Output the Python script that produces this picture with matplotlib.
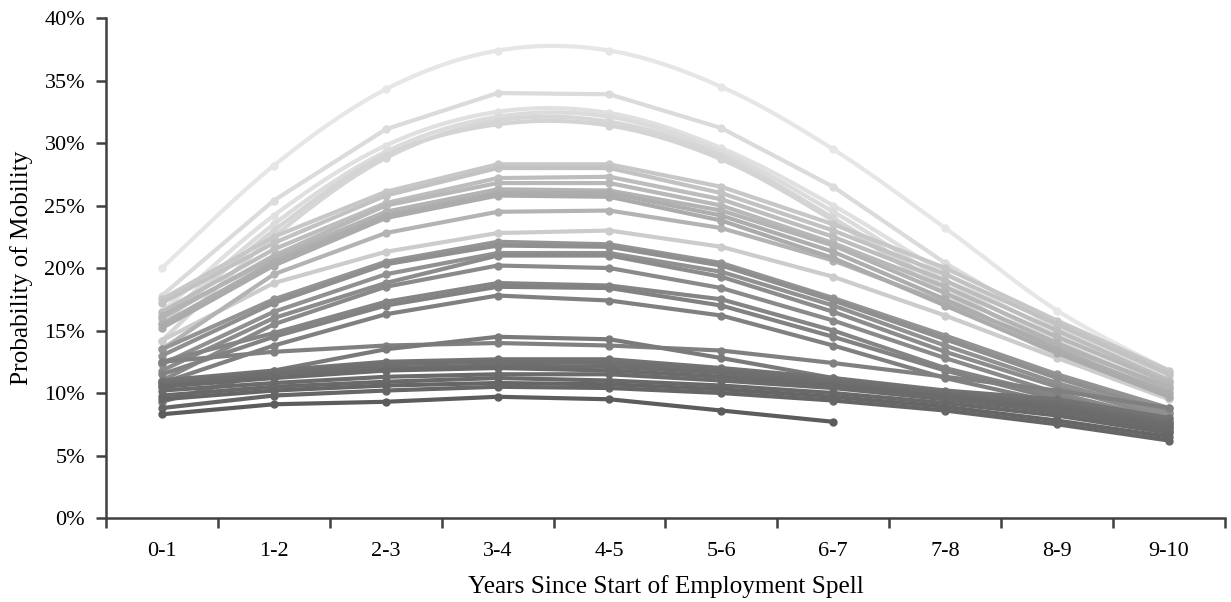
import numpy as np
import matplotlib
matplotlib.use("Agg")
import matplotlib.pyplot as plt
from matplotlib.ticker import FuncFormatter, FixedLocator

plt.rcParams['font.family'] = ['Liberation Serif', 'DejaVu Serif']

# --- Data (probability of mobility, %) ---

periods = ['0-1', '1-2', '2-3', '3-4', '4-5', '5-6', '6-7', '7-8', '8-9', '9-10']

s01 = [20.0, 28.2, 34.3, 37.4, 37.4, 34.5, 29.5, 23.2, 16.6, 11.8]
s02 = [17.8, 25.4, 31.1, 34.0, 33.9, 31.2, 26.5, 20.4, 15.2, 11.3]
s03 = [16.5, 24.2, 29.8, 32.5, 32.4, 29.6, 25.0, 19.6, 14.8, 11.0]
s04 = [15.8, 23.5, 29.3, 32.1, 32.1, 29.3, 24.5, 19.0, 14.2, 10.5]
s05 = [14.2, 22.5, 28.8, 31.8, 31.7, 29.0, 24.0, 18.5, 13.5, 10.0]
s06 = [15.5, 23.0, 29.0, 31.5, 31.4, 28.7, 23.8, 18.0, 13.0, 9.5]
s07 = [17.5, 22.5, 26.1, 28.3, 28.3, 26.5, 23.5, 20.0, 15.8, 11.8]
s08 = [17.2, 22.0, 25.8, 28.0, 28.0, 26.0, 23.0, 19.5, 15.5, 11.5]
s09 = [16.5, 21.5, 25.2, 27.2, 27.3, 25.5, 22.5, 19.0, 15.0, 11.0]
s10 = [16.0, 21.0, 25.0, 26.8, 26.8, 25.0, 22.0, 18.5, 14.5, 10.8]
s11 = [16.2, 20.8, 24.5, 26.3, 26.2, 24.6, 21.8, 18.0, 14.0, 10.3]
s12 = [15.5, 20.5, 24.2, 26.0, 26.0, 24.2, 21.3, 17.5, 13.5, 10.0]
s13 = [15.2, 20.2, 24.0, 25.8, 25.7, 23.8, 20.8, 17.0, 13.2, 9.7]
s14 = [13.5, 19.5, 22.8, 24.5, 24.6, 23.2, 20.6, 17.2, 13.8, 10.5]
s15 = [14.2, 18.8, 21.3, 22.8, 23.0, 21.7, 19.3, 16.2, 12.8, 9.6]
s16 = [13.5, 17.5, 20.5, 22.1, 21.9, 20.4, 17.6, 14.6, 11.5, 8.8]
s17 = [13.0, 17.2, 20.3, 21.8, 21.7, 20.2, 17.4, 14.3, 11.2, 8.5]
s18 = [12.3, 16.5, 19.5, 21.2, 21.2, 19.7, 17.0, 13.8, 10.8, 8.3]
s19 = [11.8, 16.0, 18.8, 21.0, 21.0, 19.3, 16.5, 13.3, 10.5, 8.0]
s20 = [11.0, 15.5, 18.5, 20.2, 20.0, 18.4, 15.8, 12.8, 10.0, 7.8]
s21 = [12.5, 14.8, 17.3, 18.8, 18.6, 17.5, 15.0, 12.0, 9.8, 7.5]
s22 = [11.5, 14.5, 17.0, 18.5, 18.4, 17.0, 14.5, 11.8, 9.5, 7.3]
s23 = [10.8, 13.8, 16.3, 17.8, 17.4, 16.2, 13.8, 11.2, 9.2, 7.0]
s24 = [12.5, 13.3, 13.8, 14.0, 13.8, 13.4, 12.4, 11.3, 10.2, 8.8]
s25 = [9.3, 11.8, 13.5, 14.5, 14.3, 12.8, 11.2, 9.8, 8.5, 7.2]
s26 = [11.0, 11.8, 12.5, 12.7, 12.7, 12.0, 11.2, 10.2, 9.5, 8.0]
s27 = [10.8, 11.6, 12.3, 12.5, 12.4, 11.8, 11.0, 10.0, 9.2, 7.7]
s28 = [10.6, 11.5, 12.0, 12.2, 12.1, 11.6, 10.8, 9.9, 9.0, 7.5]
s29 = [10.5, 11.2, 11.8, 12.0, 11.8, 11.3, 10.6, 9.7, 8.8, 7.3]
s30 = [10.2, 10.8, 11.3, 11.5, 11.5, 11.0, 10.4, 9.5, 8.5, 7.0]
s31 = [9.8, 10.5, 10.9, 11.2, 11.0, 10.6, 10.0, 9.2, 8.2, 6.8]
s32 = [9.5, 10.2, 10.6, 10.8, 10.7, 10.3, 9.7, 8.9, 7.8, 6.5]
s33 = [8.8, 9.8, 10.2, 10.5, 10.4, 10.0, 9.4, 8.6, 7.5, 6.2]
s34 = [8.3, 9.1, 9.3, 9.7, 9.5, 8.6, 7.7, np.nan, np.nan, np.nan]

series = [s01, s02, s03, s04, s05, s06, s07, s08, s09, s10, s11, s12,
          s13, s14, s15, s16, s17, s18, s19, s20, s21, s22, s23, s24,
          s25, s26, s27, s28, s29, s30, s31, s32, s33, s34]

# grey level per series (1 = white)
grays = [0.90, 0.86, 0.88, 0.86, 0.84, 0.83, 0.78, 0.76, 0.74, 0.72, 0.70,
         0.68, 0.67, 0.70, 0.80, 0.58, 0.56, 0.57, 0.55, 0.54, 0.52, 0.51,
         0.50, 0.50, 0.48, 0.45, 0.44, 0.43, 0.42, 0.42, 0.41, 0.40, 0.40,
         0.36]

# which series are drawn as smoothed lines
smoothed = {0, 2, 3, 4, 5}


def excel_smooth(y, n=20):
    """Bezier smoothing similar to Excel's smoothed line."""
    y = np.asarray(y, dtype=float)
    m = int(np.sum(~np.isnan(y)))
    y = y[:m]
    x = np.arange(m, dtype=float)
    pts = np.column_stack([x, y])
    t = np.linspace(0, 1, n)[:, None]
    out = []
    for i in range(m - 1):
        p0 = pts[i]
        p3 = pts[i + 1]
        prev = pts[i - 1] if i > 0 else pts[i]
        nxt = pts[i + 2] if i + 2 < m else pts[i + 1]
        p1 = p0 + (p3 - prev) / 6
        p2 = p3 - (nxt - p0) / 6
        seg = ((1 - t) ** 3) * p0 + 3 * ((1 - t) ** 2) * t * p1 \
            + 3 * (1 - t) * t ** 2 * p2 + t ** 3 * p3
        out.append(seg if i == 0 else seg[1:])
    seg = np.vstack(out)
    return seg[:, 0], seg[:, 1]


fig = plt.figure(figsize=(12.31, 6.02), dpi=100)
ax = fig.add_axes([0.0861, 0.1395, 0.9089, 0.8305])

order = np.argsort(grays, kind='stable')[::-1]  # light first, dark on top
for k, idx in enumerate(order):
    vals = series[idx]
    col = str(grays[idx])
    xi = np.arange(len(vals))
    if idx in smoothed:
        xs, ys = excel_smooth(vals)
    else:
        xs, ys = xi, vals
    ax.plot(xs, ys, color=col, lw=3.0, solid_capstyle='round',
            solid_joinstyle='round', zorder=2 + k)
    ax.plot(xi, vals, 'o', color=col, ms=5, zorder=2 + k)

ax.set_xlim(-0.5, len(periods) - 0.5)
ax.set_ylim(0, 40)

ax.yaxis.set_major_locator(FixedLocator(np.arange(0, 41, 5)))
ax.yaxis.set_major_formatter(FuncFormatter(lambda v, p: f'{v:.0f}%'))
ax.set_xticks(range(len(periods)))
ax.set_xticklabels(periods)
ax.set_xticks(np.arange(-0.5, len(periods), 1.0), minor=True)

ax.tick_params(axis='x', which='major', length=0, pad=17, labelsize=16)
ax.tick_params(axis='x', which='minor', length=7, width=1.8, color='#404040',
               direction='out')
ax.tick_params(axis='y', length=7, width=1.8, color='#404040',
               direction='out', labelsize=16, pad=8)

for s in ['top', 'right']:
    ax.spines[s].set_visible(False)
for s in ['left', 'bottom']:
    ax.spines[s].set_color('#404040')
    ax.spines[s].set_linewidth(1.8)

ax.set_xlabel('Years Since Start of Employment Spell', fontsize=18.2, labelpad=10)
ax.set_ylabel('Probability of Mobility', fontsize=18.2, labelpad=8)

fig.savefig('out.png', dpi=100)
